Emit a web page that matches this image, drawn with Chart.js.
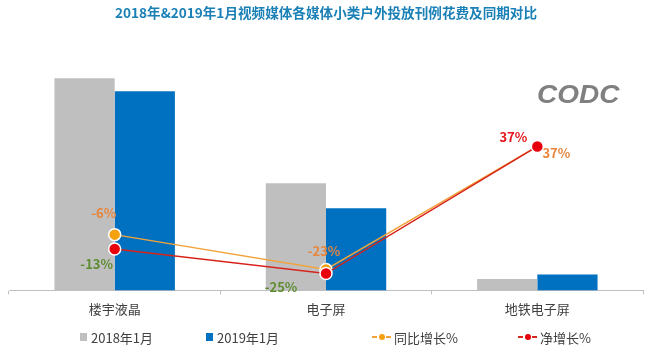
<!DOCTYPE html>
<html>
<head>
<meta charset="utf-8">
<script src="https://cdn.jsdelivr.net/npm/chart.js@4/dist/chart.umd.min.js"></script>
<style>
  html, body { margin: 0; padding: 0; background: #fff; }
</style>
</head>
<body>
<canvas id="chart" width="658" height="363"></canvas>
<script>
// Data
const categories = ['楼宇液晶', '电子屏', '地铁电子屏'];
const spend2018 = [21.2, 10.7, 1.15];
const spend2019 = [19.9, 8.2, 1.58];
const yoyGrowth = [-6, -23, 37];
const netGrowth = [-13, -25, 37];
const seriesNames = ['2018年1月', '2019年1月', '同比增长%', '净增长%'];

// label placement / colours (styling only)
const yoyLabelOffsets = [[-11, -22], [-2, -18], [19, 7]];
const netLabelOffsets = [[-18, 15], [-45, 13], [-24, -9]];
const yoyLabelColors = ['#E8863C', '#E8863C', '#E8863C'];
const netLabelColors = ['#5E8C31', '#5E8C31', '#E3161B'];
const legendX = [80, 206, 372, 518];

const FONT = "'Noto Sans CJK SC', 'Noto Sans', sans-serif";
Chart.defaults.font.family = FONT;
Chart.defaults.color = '#404040';

// percent labels next to the line points
const valueLabels = {
    id: 'valueLabels',
    afterDatasetsDraw(chart) {
        const ctx = chart.ctx;
        ctx.save();
        ctx.font = 'bold 13px ' + FONT;
        ctx.textAlign = 'center';
        ctx.textBaseline = 'middle';
        chart.data.datasets.forEach((ds, i) => {
            if (!ds.labelOffsets) return;
            chart.getDatasetMeta(i).data.forEach((pt, j) => {
                const off = ds.labelOffsets[j];
                ctx.fillStyle = ds.labelColors[j];
                ctx.fillText(ds.data[j] + '%', pt.x + off[0], pt.y + off[1]);
            });
        });
        ctx.restore();
    }
};

// CODC watermark + bottom legend
const extras = {
    id: 'extras',
    afterDraw(chart) {
        const ctx = chart.ctx;
        ctx.save();
        ctx.fillStyle = '#808080';
        ctx.font = "italic bold 25px 'Liberation Sans', sans-serif";
        ctx.textBaseline = 'middle';
        ctx.textAlign = 'left';
        ctx.save();
        ctx.translate(537, 96);
        ctx.scale(1.12, 1);
        ctx.fillText('CODC', 0, 0);
        ctx.restore();

        const y = 337;
        ctx.font = '13px ' + FONT;
        chart.data.datasets.forEach((ds, i) => {
            const x = legendX[i];
            let tx;
            if (ds.type === 'line') {
                ctx.strokeStyle = ds.borderColor;
                ctx.lineWidth = 2;
                ctx.setLineDash([5, 2]);
                ctx.beginPath();
                ctx.moveTo(x, y);
                ctx.lineTo(x + 20, y);
                ctx.stroke();
                ctx.setLineDash([]);
                ctx.fillStyle = ds.pointBackgroundColor;
                ctx.beginPath();
                ctx.arc(x + 10, y, 3, 0, Math.PI * 2);
                ctx.fill();
                tx = x + 22;
            } else {
                ctx.fillStyle = ds.backgroundColor;
                ctx.fillRect(x, y - 4, 7, 8);
                tx = x + 11;
            }
            ctx.fillStyle = '#404040';
            ctx.fillText(ds.label, tx, y + 1);
        });
        ctx.restore();
    }
};

new Chart(document.getElementById('chart'), {
    type: 'bar',
    data: {
        labels: categories,
        datasets: [
            {
                label: seriesNames[0],
                data: spend2018,
                backgroundColor: '#BFBFBF',
                yAxisID: 'y',
                order: 3
            },
            {
                label: seriesNames[1],
                data: spend2019,
                backgroundColor: '#0070C0',
                yAxisID: 'y',
                order: 3
            },
            {
                type: 'line',
                label: seriesNames[2],
                data: yoyGrowth,
                borderColor: '#F2A33A',
                borderWidth: 1.5,
                pointBackgroundColor: '#F5A00F',
                pointBorderColor: '#FFFFFF',
                pointBorderWidth: 1.5,
                pointRadius: 6,
                yAxisID: 'y1',
                order: 2,
                labelOffsets: yoyLabelOffsets,
                labelColors: yoyLabelColors
            },
            {
                type: 'line',
                label: seriesNames[3],
                data: netGrowth,
                borderColor: '#D8231B',
                borderWidth: 1.5,
                pointBackgroundColor: '#E8000B',
                pointBorderColor: '#FFFFFF',
                pointBorderWidth: 1.5,
                pointRadius: 6,
                yAxisID: 'y1',
                order: 1,
                labelOffsets: netLabelOffsets,
                labelColors: netLabelColors
            }
        ]
    },
    options: {
        responsive: false,
        animation: false,
        layout: { padding: { left: 9, right: 15, top: 0, bottom: 39 } },
        datasets: {
            bar: { categoryPercentage: 0.57, barPercentage: 1.0 }
        },
        plugins: {
            legend: { display: false },
            tooltip: { enabled: false },
            title: {
                display: true,
                text: '2018年&2019年1月视频媒体各媒体小类户外投放刊例花费及同期对比',
                color: '#1A80B6',
                font: { size: 13.6, weight: 'bold' },
                padding: { top: 5, bottom: 14 }
            }
        },
        scales: {
            x: {
                grid: {
                    drawOnChartArea: false,
                    drawTicks: true,
                    tickLength: 4,
                    color: '#BFBFBF'
                },
                border: { color: '#BFBFBF' },
                ticks: { padding: 7, color: '#404040', font: { size: 13 } }
            },
            y: {
                display: false,
                min: 0,
                max: 25.5
            },
            y1: {
                display: false,
                min: -33.2,
                max: 91.2
            }
        }
    },
    plugins: [valueLabels, extras]
});
</script>
</body>
</html>
